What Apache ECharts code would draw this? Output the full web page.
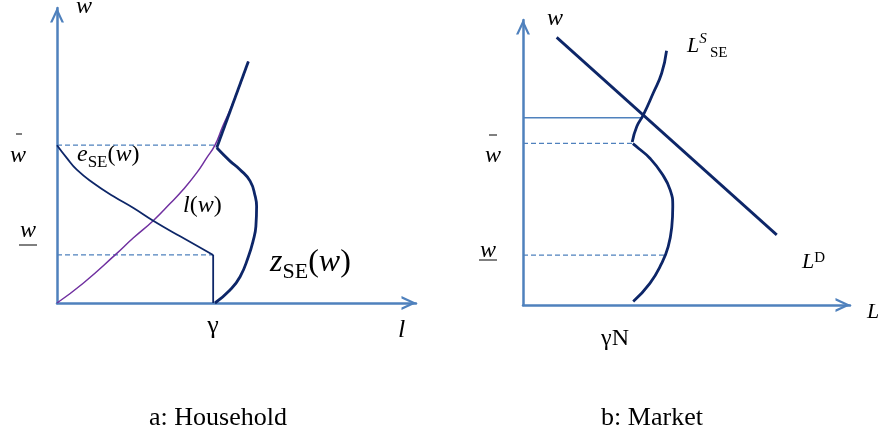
<!DOCTYPE html>
<html lang="en">
<head>
    <meta charset="UTF-8">
    <title>Household and market</title>
    <style>
        body {
            margin: 0;
            background-color: #fff;
        }

        #chart {
            width: 878px;
            height: 429px;
        }
    </style>
</head>
<body>

    <div id="chart"></div>

    <script src="https://cdn.jsdelivr.net/npm/echarts@6/dist/echarts.min.js"></script>
    <script>

        // both panels: axes run 0..100 along their drawn length

        // a: household
        const wBarA = 53.5;          // upper wage level
        const wLowA = 16.3;          // lower wage level
        const gammaA = 43.5;         // gamma on the l axis
        const laborCurve = [         // l(w)
            [0, 0], [7.3, 6.7], [16.2, 16.3], [21.3, 22.1], [26.8, 27.9], [31.5, 33.7],
            [35.1, 38.4], [38.9, 44.1], [41.7, 49.2], [44.0, 53.5], [46.2, 60], [49.1, 68], [53.3, 81.9],
        ];
        const effortCurve = [        // e_SE(w)
            [0, 53.5], [2.7, 49.2], [5.5, 45.2], [10.1, 40.7], [15.7, 36.2], [21.3, 32.2],
            [26.8, 27.9], [34.3, 22.6], [43.5, 16.3],
        ];
        const zCurveLow = [          // z_SE(w) below the kink
            [44.0, 0], [48.2, 4.4], [51.0, 8.9], [53.3, 15.7], [54.7, 21.4], [55.4, 26.0],
            [55.6, 32.8], [55.2, 36.2], [53.8, 41.3], [51.0, 45.2], [48.2, 48.1], [44.5, 52.6],
        ];
        const zCurveHigh = [[44.5, 52.6], [53.3, 81.9]];

        // b: market
        const wEqB = 65.7;           // equilibrium wage
        const eqLB = 36.6;
        const wBarB = 56.7;
        const wBarEndB = 33.5;
        const wLowB = 17.5;
        const wLowEndB = 43.4;
        const demandLine = [[10.3, 93.9], [77.6, 24.6]];
        const supplyLow = [
            [33.7, 1.2], [38.8, 7.6], [42.4, 14.6], [44.4, 20.5], [45.5, 27.5], [45.8, 34.5],
            [45.0, 40.4], [42.4, 46.2], [38.8, 51.5], [35.3, 55.0], [33.6, 56.6],
        ];
        const supplyHigh = [
            [33.4, 57.2], [34.8, 62.6], [36.8, 66.7], [39.8, 74.3], [42.4, 81.3], [43.9, 89.2],
        ];

        const axisBlue = '#4f81bd';
        const navy = '#0d2668';
        const purple = '#7030a0';
        const serif = '"Liberation Serif", "Times New Roman", serif';

        const chart = echarts.init(document.getElementById('chart'));

        // open chevron arrow, tip up (echarts turns it along the axis)
        const chevron = 'path://M7,0 L14,15 L11.6,15 L7,5.2 L2.4,15 L0,15 Z';

        function axis(gridIndex) {
            return {
                type: 'value',
                gridIndex: gridIndex,
                min: 0,
                max: 100,
                axisLine: {
                    show: true,
                    symbol: ['none', chevron],
                    symbolSize: [14, 15],
                    symbolOffset: [0, -7],
                    lineStyle: { color: axisBlue, width: 2.5 },
                },
                axisTick: { show: false },
                axisLabel: { show: false },
                splitLine: { show: false },
            };
        }

        function line(idx, data, color, width, extra) {
            return Object.assign({
                type: 'line',
                xAxisIndex: idx,
                yAxisIndex: idx,
                data: data,
                symbol: 'none',
                silent: true,
                animation: false,
                lineStyle: { color: color, width: width },
            }, extra || {});
        }

        function dashed(idx, w, end) {
            return line(idx, [[0, w], [end, w]], axisBlue, 1.3, {
                lineStyle: { color: axisBlue, width: 1.3, type: [5, 3] },
            });
        }

        // text pieces laid out left to right
        const measure = document.createElement('canvas').getContext('2d');

        function txt(x, base, str, size, italic, align) {
            const font = (italic ? 'italic ' : '') + size + 'px ' + serif;
            return {
                type: 'text',
                silent: true,
                style: {
                    text: str,
                    x: x,
                    y: base - 0.27 * size,
                    font: font,
                    fill: '#000',
                    align: align || 'left',
                    textAlign: align || 'left',
                    verticalAlign: 'middle',
                    textVerticalAlign: 'middle',
                },
            };
        }

        function run(x, base, pieces) {
            const out = [];
            pieces.forEach(p => {
                out.push(txt(x, base + (p[3] || 0), p[0], p[1], p[2]));
                measure.font = (p[2] ? 'italic ' : '') + p[1] + 'px ' + serif;
                x += measure.measureText(p[0]).width;
            });
            return out;
        }

        function rule(x1, x2, y) {
            return {
                type: 'line',
                silent: true,
                shape: { x1: x1, y1: y, x2: x2, y2: y },
                style: { stroke: '#000', lineWidth: 1 },
            };
        }

        const labels = [].concat(
            // a
            txt(84, 13, 'w', 24, true, 'center'),
            txt(18, 162, 'w', 24, true, 'center'), rule(16, 22, 134),
            txt(28, 237, 'w', 24, true, 'center'), rule(19, 37, 245),
            run(77, 161, [['e', 24, true], ['SE', 17, false, 6], ['(', 24], ['w', 24, true], [')', 24]]),
            run(183, 212, [['l', 24, true], ['(', 24], ['w', 24, true], [')', 24]]),
            run(270, 271, [['z', 32, true], ['SE', 22, false, 7], ['(', 32], ['w', 32, true], [')', 32]]),
            txt(213, 333, 'γ', 26, false, 'center'),
            txt(398, 337, 'l', 26, true),
            txt(218, 425, 'a: Household', 26, false, 'center'),
            // b
            txt(555, 25, 'w', 24, true, 'center'),
            txt(493, 162, 'w', 24, true, 'center'), rule(489, 497, 135),
            txt(488, 257, 'w', 24, true, 'center'), rule(479, 497, 260),
            run(687, 52, [['L', 22, true], ['S', 15, true, -9]]),
            txt(710, 57, 'SE', 15, false),
            run(802, 268, [['L', 22, true], ['D', 15, false, -6]]),
            txt(867, 318, 'L', 22, true),
            txt(615, 345, 'γN', 24, false, 'center'),
            txt(652, 425, 'b: Market', 26, false, 'center')
        );

        const option = {
            animation: false,
            grid: [
                { left: 57, top: 8, width: 359, height: 295 },
                { left: 523, top: 20, width: 327, height: 285 },
            ],
            xAxis: [axis(0), axis(1)],
            yAxis: [axis(0), axis(1)],
            graphic: labels,
            series: [
                // a
                dashed(0, wBarA, 44.0),
                dashed(0, wLowA, gammaA),
                line(0, laborCurve, purple, 1.5, { smooth: 0.5 }),
                line(0, effortCurve, navy, 1.8, { smooth: 0.5 }),
                line(0, [[gammaA, wLowA], [gammaA, 0]], navy, 1.8),
                line(0, zCurveLow, navy, 2.8, { smooth: 0.5 }),
                line(0, zCurveHigh, navy, 2.8),
                // b
                line(1, [[0, wEqB], [eqLB, wEqB]], axisBlue, 1.5),
                dashed(1, wBarB, wBarEndB),
                dashed(1, wLowB, wLowEndB),
                line(1, demandLine, navy, 2.8),
                line(1, supplyLow, navy, 2.8, { smooth: 0.5 }),
                line(1, supplyHigh, navy, 2.8, { smooth: 0.5 }),
            ],
        };

        chart.setOption(option);

    </script>
</body>
</html>
